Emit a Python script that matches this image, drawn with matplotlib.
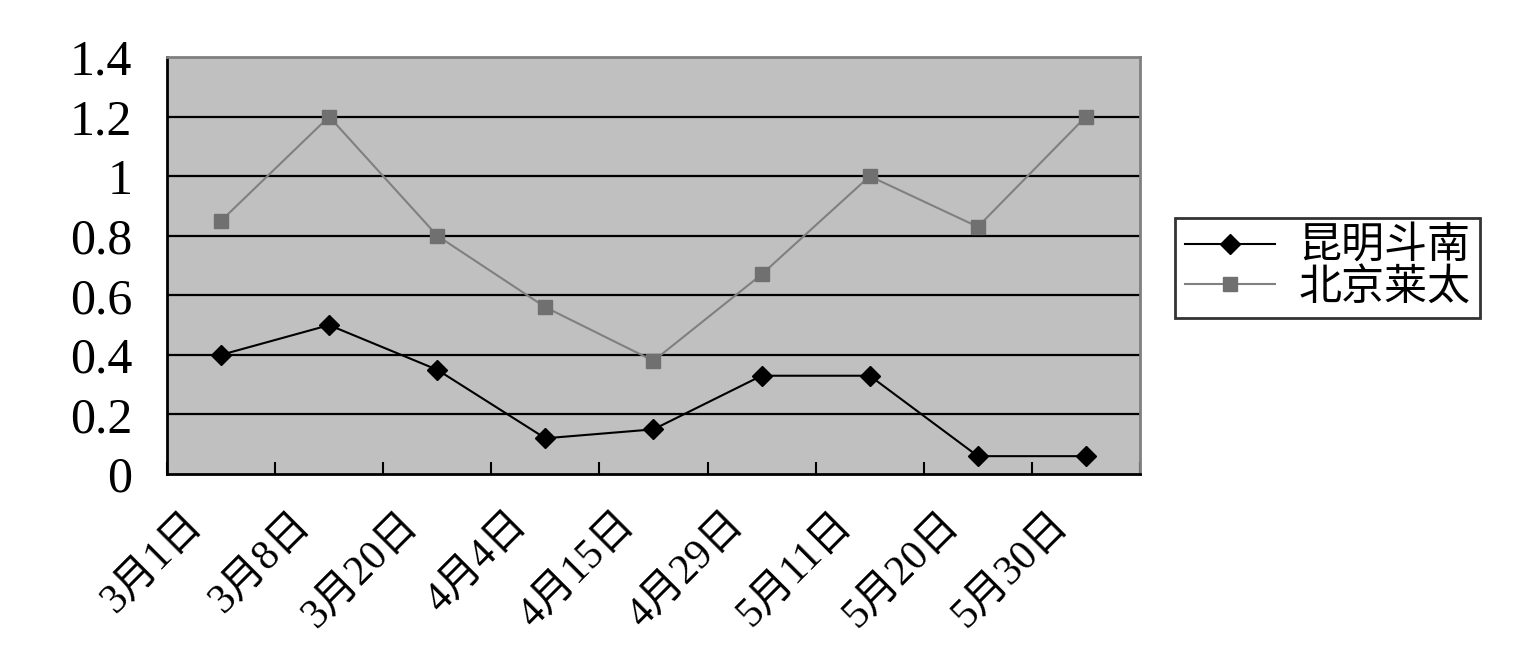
import matplotlib
matplotlib.use('Agg')
import matplotlib.pyplot as plt
import matplotlib.transforms as mtrans
import numpy as np

plt.rcParams['font.family'] = ['Liberation Serif', 'Noto Sans CJK SC']

# data
dates = ['3月1日', '3月8日', '3月20日', '4月4日', '4月15日',
         '4月29日', '5月11日', '5月20日', '5月30日']
kunming = [0.40, 0.50, 0.35, 0.12, 0.15, 0.33, 0.33, 0.06, 0.06]
beijing = [0.85, 1.20, 0.80, 0.56, 0.38, 0.67, 1.00, 0.83, 1.20]
series_names = ['昆明斗南', '北京莱太']
yticks = [0, 0.2, 0.4, 0.6, 0.8, 1.0, 1.2, 1.4]
ytick_labels = ['0', '0.2', '0.4', '0.6', '0.8', '1', '1.2', '1.4']

fig = plt.figure(figsize=(15.36, 6.57), dpi=100)
ax = fig.add_axes([0.1087, 0.2785, 0.6335, 0.6347])
ax.set_facecolor('#c0c0c0')

x = np.arange(len(dates))

# horizontal gridlines
for yv in yticks[1:-1]:
    ax.axhline(yv, color='black', linewidth=1.6, zorder=1)

ax.plot(x, kunming, color='black', linewidth=1.5, marker='D',
        markersize=10, markerfacecolor='black', markeredgecolor='black',
        label=series_names[0], zorder=3)
ax.plot(x, beijing, color='#808080', linewidth=1.5, marker='s',
        markersize=10, markerfacecolor='#707070', markeredgecolor='#707070',
        label=series_names[1], zorder=3)

ax.set_xlim(-0.5, len(dates) - 0.5)
ax.set_ylim(0, 1.4)

# spines: left/bottom black, top/right gray
for side in ['left', 'bottom']:
    ax.spines[side].set_color('black')
    ax.spines[side].set_linewidth(2)
for side in ['top', 'right']:
    ax.spines[side].set_color('#808080')
    ax.spines[side].set_linewidth(2)

# y axis
ax.set_yticks(yticks)
ax.set_yticklabels(ytick_labels, fontsize=36)
ax.tick_params(axis='y', length=0, pad=25)

# x axis: ticks between categories, labels at centres
ax.set_xticks(np.arange(len(dates) + 1) - 0.5, minor=False)
ax.set_xticklabels([''] * (len(dates) + 1))
ax.tick_params(axis='x', which='major', direction='in', length=9, width=1.5)
ax.set_xticks(x, minor=True)
ax.set_xticklabels(dates, minor=True, fontsize=30, rotation=45,
                   ha='right', rotation_mode='anchor')
ax.tick_params(axis='x', which='minor', length=0, pad=22)
offset = mtrans.ScaledTranslation(-0.38, 0, fig.dpi_scale_trans)
for lab in ax.get_xticklabels(minor=True):
    lab.set_transform(lab.get_transform() + offset)

leg = fig.legend(loc='upper left', bbox_to_anchor=(0.765, 0.668),
                 fontsize=31, frameon=True, fancybox=False, edgecolor='black',
                 handlelength=2.1, handletextpad=0.55, borderpad=0.22,
                 labelspacing=0.02, borderaxespad=0)
leg.get_frame().set_linewidth(2)

fig.savefig('out.png', dpi=100)
